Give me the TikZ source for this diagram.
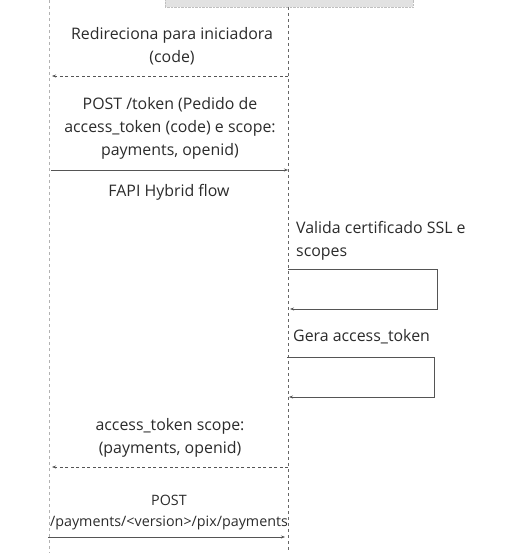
\documentclass[tikz,border=0pt]{standalone}
\usepackage{fontspec}
\setmainfont{Open Sans}
\usetikzlibrary{arrows.meta}
\definecolor{txt}{HTML}{2B2B2B}
\definecolor{ln}{HTML}{555555}
\definecolor{boxfill}{HTML}{E2E2E2}
\tikzset{
  lbl/.style={text=txt,font=\fontsize{15.9}{23}\selectfont,align=center,inner sep=0pt},
  lblleft/.style={lbl,align=left,anchor=west},
  msg/.style={draw=ln,line width=0.8pt,-{Stealth[length=4pt,width=3pt]}},
  ret/.style={msg,dash pattern=on 3pt off 2.5pt},
  life/.style={dash pattern=on 3pt off 3pt,line width=0.8pt},
}
\begin{document}
\begin{tikzpicture}[x=1pt,y=-1pt]
\useasboundingbox (0,0) rectangle (521,553);
% top box
\node[draw=gray!50,densely dotted,fill=boxfill,minimum width=248pt,minimum height=10pt,anchor=south west,inner sep=0pt] (box) at (165,7) {};
% lifelines
\coordinate (La) at (49,0); \coordinate (Lb) at (49,553);
\coordinate (Ra) at (288,7); \coordinate (Rb) at (288,553);
\draw[life,draw=gray!60] (La) -- (Lb);
\draw[life,draw=gray!80!black] (Ra) -- (Rb);
% message 1
\node[lbl] (t1) at (172,46) {Redireciona para iniciadora\\(code)};
\coordinate (m1a) at (288,76); \coordinate (m1b) at (52,76);
\draw[ret] (m1a) -- (m1b);
% message 2
\node[lbl] (t2) at (170,128) {POST /token (Pedido de\\access\_token (code) e scope:\\payments, openid)};
\coordinate (m2a) at (51,170); \coordinate (m2b) at (288,170);
\draw[msg] (m2a) -- (m2b);
\node[lbl] (t3) at (169,192) {FAPI Hybrid flow};
% self 1
\node[lblleft] (t4) at (296,241) {Valida certificado SSL e\\scopes};
\coordinate (s1a) at (288,269); \coordinate (s1b) at (437,269);
\coordinate (s1c) at (437,309); \coordinate (s1d) at (290,309);
\draw[msg] (s1a) -- (s1b) -- (s1c) -- (s1d);
% self 2
\node[lblleft] (t5) at (293,337) {Gera access\_token};
\coordinate (s2a) at (287,357); \coordinate (s2b) at (434,357);
\coordinate (s2c) at (434,397); \coordinate (s2d) at (289,397);
\draw[msg] (s2a) -- (s2b) -- (s2c) -- (s2d);
% message 3
\node[lbl] (t6) at (170,438) {access\_token scope:\\(payments, openid)};
\coordinate (m3a) at (288,467); \coordinate (m3b) at (52,467);
\draw[ret] (m3a) -- (m3b);
% message 4
\node[lbl,font=\fontsize{14.3}{21}\selectfont] (t7) at (169,513) {POST\\/payments/<version>/pix/payments};
\coordinate (m4a) at (48,537); \coordinate (m4b) at (285,537);
\draw[msg] (m4a) -- (m4b);
\end{tikzpicture}
\end{document}
